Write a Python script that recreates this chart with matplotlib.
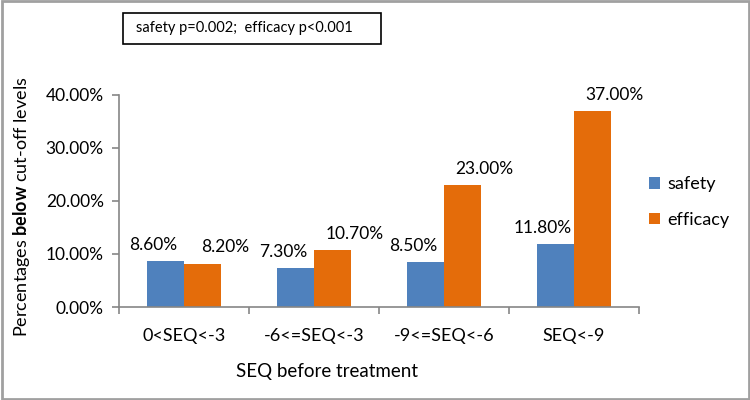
import numpy as np
import matplotlib.pyplot as plt
from matplotlib.patches import Rectangle

# datos
categorias = ['0<SEQ<-3', '-6<=SEQ<-3', '-9<=SEQ<-6', 'SEQ<-9']
safety = [8.6, 7.3, 8.5, 11.8]
efficacy = [8.2, 10.7, 23.0, 37.0]
yticks = [0, 10, 20, 30, 40]

plt.rcParams['font.family'] = ['Lato', 'DejaVu Sans']
plt.rcParams['mathtext.fontset'] = 'custom'
plt.rcParams['mathtext.rm'] = 'Lato'
plt.rcParams['mathtext.bf'] = 'Lato:bold'

azul = '#4F81BD'
naranja = '#E46C0A'
gris = '#868686'

fig = plt.figure(figsize=(7.5, 4), dpi=100)
ax = fig.add_axes([119/750, 1-307/400, 520/750, 212/400])

x = np.arange(len(categorias))
w = 0.285
ax.bar(x - w/2, safety, w, color=azul, label='safety')
ax.bar(x + w/2, efficacy, w, color=naranja, label='efficacy')

# etiquetas de valores
for xi, v in zip(x, safety):
    ax.annotate('%.2f%%' % v, (xi - w/2, v), xytext=(-9, 6), textcoords='offset points',
                ha='center', va='bottom', fontsize=12.5)
for xi, v in zip(x, efficacy):
    ax.annotate('%.2f%%' % v, (xi + w/2, v), xytext=(16, 6), textcoords='offset points',
                ha='center', va='bottom', fontsize=12.5)

ax.set_xlim(-0.5, len(categorias) - 0.5)
ax.set_ylim(0, 40)
ax.set_yticks(yticks)
ax.set_yticklabels(['%.2f%%' % t for t in yticks], fontsize=12.5)
ax.set_xticks(np.arange(-0.5, len(categorias)), minor=False)
ax.set_xticklabels([])
ax.set_xticks(x, minor=True)
ax.set_xticklabels(categorias, minor=True, fontsize=13)
ax.tick_params(axis='x', which='major', length=5, color=gris, width=1.2)
ax.tick_params(axis='x', which='minor', length=0, pad=15)
ax.tick_params(axis='y', length=5, color=gris, width=1.2, pad=6)

for s in ['top', 'right']:
    ax.spines[s].set_visible(False)
for s in ['left', 'bottom']:
    ax.spines[s].set_color(gris)
    ax.spines[s].set_linewidth(1.2)

fig.text(22/750, 1-207/400, r'Percentages $\bf{below}$ cut-off levels', rotation=90,
         ha='center', va='center', fontsize=13)
fig.text(327/750, 1-372/400, 'SEQ before treatment', ha='center', va='center', fontsize=13.5)

ax.legend(loc='upper left', bbox_to_anchor=(633/750, 1-160/400), bbox_transform=fig.transFigure,
          frameon=False, fontsize=13, handlelength=0.6, handleheight=0.6,
          labelspacing=1.1, handletextpad=0.4)

# cuadro de texto
fig.patches.append(Rectangle((123/750, 1-44/400), 258/750, 31/400, transform=fig.transFigure,
                             fill=False, edgecolor='black', linewidth=1.2))
fig.text(244/750, 1-28/400, 'safety p=0.002;  efficacy p<0.001', ha='center', va='center', fontsize=10.5)

# borde exterior
fig.patches.append(Rectangle((0.002, 0.003), 0.996, 0.994, transform=fig.transFigure,
                             fill=False, edgecolor='#A0A0A0', linewidth=2))

plt.savefig('out.png', dpi=100)
